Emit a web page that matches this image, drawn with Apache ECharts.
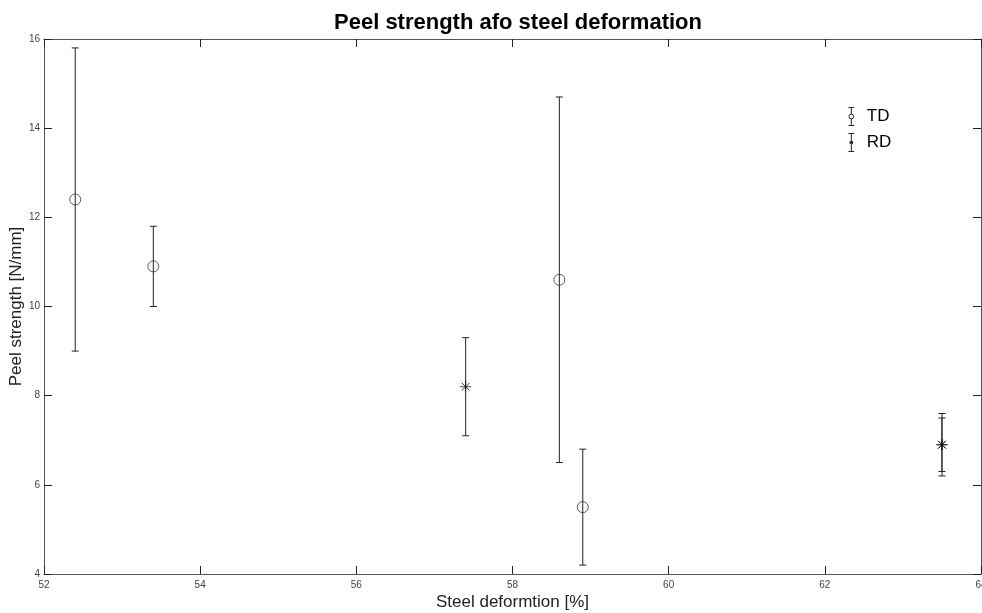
<!DOCTYPE html>
<html>
<head>
<meta charset="utf-8">
<script src="https://cdn.jsdelivr.net/npm/echarts@6/dist/echarts.min.js"></script>
<style>
html,body{margin:0;padding:0;background:#fff;}
#chart{width:982px;height:613px;}
</style>
</head>
<body>
<div id="chart"></div>
<script>
// ---- data ----
const tdX = [52.4, 53.4, 58.6, 58.9];
const tdY = [12.4, 10.9, 10.6, 5.5];
const tdLow = [9.0, 10.0, 6.5, 4.2];
const tdHigh = [15.8, 11.8, 14.7, 6.8];

const rdX = [57.4, 63.5, 63.5];
const rdY = [8.2, 6.9, 6.9];
const rdLow = [7.1, 6.2, 6.3];
const rdHigh = [9.3, 7.6, 7.5];

const xTicks = [52, 54, 56, 58, 60, 62, 64];
const yTicks = [4, 6, 8, 10, 12, 14, 16];

// ---- build ----
const font = '"Liberation Sans", Arial, Helvetica, sans-serif';
const tdPts = tdX.map((x, i) => [x, tdY[i]]);
const rdPts = rdX.map((x, i) => [x, rdY[i]]);
const tdErr = tdX.map((x, i) => [x, tdLow[i], tdHigh[i]]);
const rdErr = rdX.map((x, i) => [x, rdLow[i], rdHigh[i]]);

function renderErr(params, api) {
  const x = api.value(0), lo = api.value(1), hi = api.value(2);
  const a = api.coord([x, lo]);
  const b = api.coord([x, hi]);
  const w = 3.5;
  const style = { stroke: '#222', lineWidth: 1, fill: null };
  return {
    type: 'group',
    children: [
      { type: 'line', shape: { x1: a[0], y1: a[1], x2: b[0], y2: b[1] }, style: style },
      { type: 'line', shape: { x1: a[0] - w, y1: a[1], x2: a[0] + w, y2: a[1] }, style: style },
      { type: 'line', shape: { x1: b[0] - w, y1: b[1], x2: b[0] + w, y2: b[1] }, style: style }
    ]
  };
}

const tdIcon = 'path://M1 0.5 H7 M4 0.5 V7.5 M6.5 10 A2.5 2.5 0 1 1 1.5 10 A2.5 2.5 0 1 1 6.5 10 M4 12.5 V19.5 M1 19.5 H7';
const rdIcon = 'path://M1 0.5 H7 M4 0.5 V19.5 M1 19.5 H7 M2.3 8.3 L5.7 11.7 M2.3 11.7 L5.7 8.3 M2 10 H6';
const asterisk = 'path://M5 0 V10 M0 5 H10 M1.5 1.5 L8.5 8.5 M1.5 8.5 L8.5 1.5';

const axisLineStyle = { color: '#555', width: 1 };
const tickStyle = { show: true, inside: true, length: 8, lineStyle: { color: '#222' } };

const option = {
  animation: false,
  backgroundColor: '#fff',
  title: {
    text: 'Peel strength afo steel deformation',
    left: 513, top: 7, textAlign: 'center',
    textStyle: { fontFamily: font, fontSize: 22, fontWeight: 'bold', color: '#000' }
  },
  legend: {
    orient: 'vertical',
    left: 846, top: 105, padding: 0,
    itemWidth: 7, itemHeight: 18, itemGap: 3,
    textStyle: { fontFamily: font, fontSize: 17, color: '#000', padding: [0, 0, 0, 7] },
    selectedMode: false,
    data: [
      { name: 'TD', icon: tdIcon, itemStyle: { color: 'none', borderColor: '#222', borderWidth: 1 } },
      { name: 'RD', icon: rdIcon, itemStyle: { color: 'none', borderColor: '#222', borderWidth: 1 } }
    ]
  },
  grid: { left: 44, right: 1, top: 39, bottom: 39, containLabel: false, outerBoundsMode: 'none' },
  xAxis: [
    {
      type: 'value', min: 52, max: 64, interval: 2, position: 'bottom',
      name: 'Steel deformtion [%]', nameLocation: 'middle', nameGap: 20, nameMoveOverlap: false,
      nameTextStyle: { fontFamily: font, fontSize: 17, color: '#222' },
      axisLine: { show: true, lineStyle: axisLineStyle },
      axisTick: tickStyle,
      axisLabel: { fontFamily: font, fontSize: 10, color: '#444', margin: 6, showMaxLabel: true,
        formatter: v => xTicks.includes(v) ? String(v) : '' },
      splitLine: { show: false }
    },
    {
      type: 'value', min: 52, max: 64, interval: 2, position: 'top',
      axisLine: { show: true, lineStyle: axisLineStyle },
      axisTick: tickStyle,
      axisLabel: { show: false },
      splitLine: { show: false }
    }
  ],
  yAxis: [
    {
      type: 'value', min: 4, max: 16, interval: 2, position: 'left',
      name: 'Peel strength [N/mm]', nameLocation: 'middle', nameGap: 19, nameRotate: 90, nameMoveOverlap: false,
      nameTextStyle: { fontFamily: font, fontSize: 17, color: '#222' },
      axisLine: { show: true, lineStyle: axisLineStyle },
      axisTick: tickStyle,
      axisLabel: { fontFamily: font, fontSize: 10, color: '#444', margin: 4,
        formatter: v => yTicks.includes(v) ? String(v) : '' },
      splitLine: { show: false }
    },
    {
      type: 'value', min: 4, max: 16, interval: 2, position: 'right',
      axisLine: { show: true, lineStyle: axisLineStyle },
      axisTick: tickStyle,
      axisLabel: { show: false },
      splitLine: { show: false }
    }
  ],
  series: [
    {
      name: 'TD', type: 'custom', renderItem: renderErr, data: tdErr,
      encode: { x: 0, y: [1, 2] }, silent: true, z: 2
    },
    {
      name: 'RD', type: 'custom', renderItem: renderErr, data: rdErr,
      encode: { x: 0, y: [1, 2] }, silent: true, z: 2
    },
    {
      name: 'TD', type: 'scatter', data: tdPts, symbol: 'circle', symbolSize: 11,
      itemStyle: { color: 'none', borderColor: '#333', borderWidth: 1 }, silent: true, z: 3
    },
    {
      name: 'RD', type: 'scatter', data: rdPts, symbol: asterisk, symbolSize: 11,
      itemStyle: { color: 'none', borderColor: '#111', borderWidth: 1 }, silent: true, z: 3
    }
  ]
};

const chart = echarts.init(document.getElementById('chart'), null, { renderer: 'canvas' });
chart.setOption(option);
</script>
</body>
</html>
